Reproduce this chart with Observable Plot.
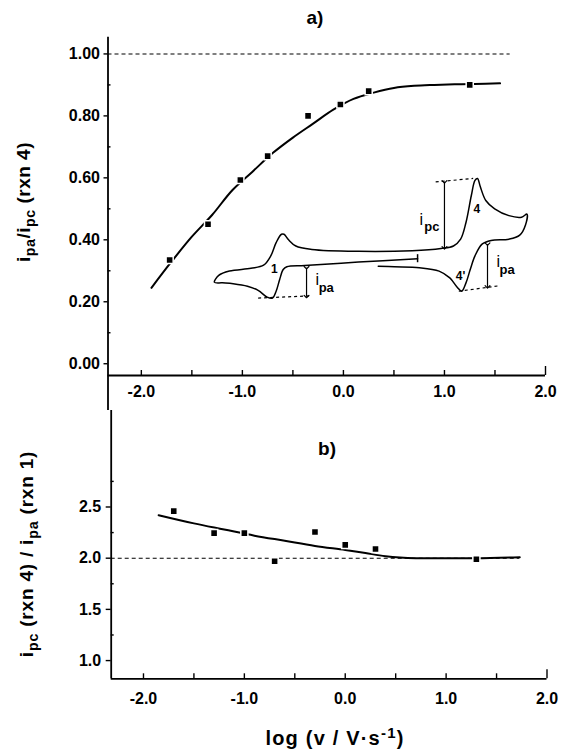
<!DOCTYPE html>
<html><head><meta charset="utf-8">
<script src="https://cdn.jsdelivr.net/npm/d3@7"></script>
<script src="https://cdn.jsdelivr.net/npm/@observablehq/plot@0.6"></script>
<style>
body{margin:0;background:#fff;}
#c{width:563px;height:755px;position:relative;overflow:hidden;}
#c svg{display:block;}
</style>
</head><body><div id="c"></div>
<script>
// ---------- Panel a data ----------
const logvA  = [-1.72, -1.34, -1.02, -0.75, -0.35, -0.03, 0.25, 1.25];
const ratioA = [0.335, 0.45, 0.593, 0.67, 0.80, 0.837, 0.88, 0.90];
const fitAx = [-1.9, -1.7, -1.5, -1.3, -1.1, -0.9, -0.7, -0.5, -0.3, -0.1, 0.1, 0.3, 0.5, 0.7, 0.9, 1.1, 1.3, 1.55];
const fitAy = [0.245, 0.33, 0.41, 0.48, 0.56, 0.62, 0.68, 0.73, 0.775, 0.82, 0.855, 0.875, 0.89, 0.897, 0.90, 0.902, 0.903, 0.905];
const refA = 1.0;

// inset cyclic voltammogram (drawn in panel-a units)
const cvX = [0.734,0.149,-0.383,-0.560,-0.596,-0.631,-0.666,-0.702,-0.755,-0.844,-0.950,-1.091,-1.198,-1.277,-1.234,-1.128,-0.915,-0.790,-0.719,-0.666,-0.613,-0.588,-0.543,-0.471,-0.312,0.149,0.681,0.965,1.089,1.160,1.213,1.266,1.302,1.327,1.355,1.409,1.497,1.638,1.763,1.816,1.802,1.745,1.638,1.462,1.372,1.302,1.255,1.213,1.170,1.124,1.053,0.947,0.752,0.504,0.345];
const cvY = [0.339,0.328,0.317,0.313,0.304,0.272,0.234,0.212,0.215,0.237,0.250,0.258,0.261,0.263,0.285,0.299,0.308,0.318,0.348,0.391,0.418,0.418,0.400,0.380,0.369,0.363,0.365,0.372,0.380,0.402,0.456,0.543,0.592,0.598,0.571,0.527,0.500,0.478,0.473,0.483,0.448,0.415,0.402,0.398,0.386,0.348,0.304,0.261,0.234,0.248,0.277,0.299,0.310,0.313,0.315];
const cvEndTick = {x: 0.734, y1: 0.326, y2: 0.352};
const baseDashes = [
  {x1: 0.913, y1: 0.587, x2: 1.284, y2: 0.598},
  {x1: 1.142, y1: 0.234, x2: 1.55,  y2: 0.252},
  {x1: -0.844, y1: 0.212, x2: -0.33, y2: 0.219}
];
const heightArrows = [
  {x: 1.0,    y1: 0.587, y2: 0.374},
  {x: 1.426,  y1: 0.386, y2: 0.248},
  {x: -0.365, y1: 0.310, y2: 0.217}
];
const peakLabels = [
  {x: -0.684, y: 0.304, t: "1"},
  {x: 1.32,   y: 0.50,  t: "4"},
  {x: 1.16,   y: 0.283, t: "4'"}
];
const curLabels = [
  {x: 0.752,  y: 0.463, sx: 0.80,  sy: 0.442, sub: "pc"},
  {x: 1.515,  y: 0.330, sx: 1.545, sy: 0.304, sub: "pa"},
  {x: -0.277, y: 0.272, sx: -0.245, sy: 0.245, sub: "pa"}
];

// ---------- Panel b data ----------
const logvB  = [-1.7, -1.3, -1.0, -0.7, -0.3, 0.0, 0.3, 1.3];
const ratioB = [2.46, 2.245, 2.245, 1.97, 2.255, 2.13, 2.09, 1.99];
const fitBx = [-1.85, -1.5, -1.2, -0.9, -0.6, -0.3, 0.0, 0.2, 0.4, 0.7, 1.0, 1.3, 1.73];
const fitBy = [2.42, 2.34, 2.28, 2.22, 2.17, 2.12, 2.08, 2.05, 2.02, 2.0, 2.0, 2.0, 2.01];
const refB = 2.0;

// ---------- ticks ----------
const xTickLabels = [-2, -1, 0, 1, 2];
const xTickMarks = [-2, -1.5, -1, -0.5, 0, 0.5, 1, 1.5];
const yTicksA = [0, 0.2, 0.4, 0.6, 0.8, 1.0];
const yMinorA = [0.1, 0.3, 0.5, 0.7, 0.9];
const yTicksB = [1.0, 1.5, 2.0, 2.5];
const yMinorB = [1.25, 1.75, 2.25, 2.75];

const FONT = "'Liberation Sans', Arial, Helvetica, sans-serif";
const baseStyle = {fontFamily: FONT, fontSize: "16px", fontWeight: "bold", background: "white", color: "black"};

// ---------- Panel a ----------
const A = {W: 563, H: 410, mt: 36.7, mb: 35, ml: 107.5, mr: 18, x0: -2.33, x1: 2.0, y0: -0.038, y1: 1.054};
const pxA = (A.H - A.mt - A.mb) / (A.y1 - A.y0);
const pxAx = (A.W - A.ml - A.mr) / (A.x1 - A.x0);
const ptsA = logvA.map((x, i) => ({x, y: ratioA[i]}));
const fitA = fitAx.map((x, i) => ({x, y: fitAy[i]}));
const cv = cvX.map((x, i) => ({x, y: cvY[i]}));

const plotA = Plot.plot({
  width: A.W, height: A.H,
  marginTop: A.mt, marginBottom: A.mb, marginLeft: A.ml, marginRight: A.mr,
  x: {domain: [A.x0, A.x1]},
  y: {domain: [A.y0, A.y1]},
  style: baseStyle,
  marks: [
    Plot.ruleX([A.x0], {y1: A.y0 - A.mb / pxA, y2: A.y1, strokeWidth: 1.8}),
    Plot.ruleY([A.y0], {x1: A.x0, x2: A.x1, strokeWidth: 1.8}),
    Plot.ruleX(xTickMarks, {y1: A.y0, y2: A.y0 + 5 / pxA, strokeWidth: 1.4}),
    Plot.ruleX([A.x1], {y1: A.y0, y2: A.y0 + 9 / pxA, strokeWidth: 1.4}),
    Plot.ruleY(yMinorA, {x1: A.x0, x2: A.x0 + 3 / pxAx, strokeWidth: 1.4}),
    Plot.axisX(xTickLabels, {tickSize: 0, tickPadding: 10, tickFormat: d => d.toFixed(1), label: null, fontSize: 16, letterSpacing: "1.5px"}),
    Plot.axisY(yTicksA, {tickSize: 4, tickPadding: 4, tickFormat: d => d.toFixed(2), label: null, fontSize: 16, strokeWidth: 1.4}),
    Plot.ruleY([refA], {x1: A.x0, x2: 1.65, strokeDasharray: "4,3", strokeWidth: 1.1}),
    // inset CV
    Plot.line(cv, {x: "x", y: "y", strokeWidth: 1.5, curve: "catmull-rom"}),
    Plot.ruleX([cvEndTick], {x: "x", y1: "y1", y2: "y2", strokeWidth: 1.5}),
    Plot.link(baseDashes, {x1: "x1", y1: "y1", x2: "x2", y2: "y2", strokeDasharray: "3,3", strokeWidth: 1.2}),
    Plot.link(heightArrows, {x1: "x", y1: "y1", x2: "x", y2: "y2", markerStart: "arrow", markerEnd: "arrow", strokeWidth: 1.2}),
    Plot.text(peakLabels, {x: "x", y: "y", text: "t", fontSize: 12}),
    Plot.text(curLabels, {x: "x", y: "y", text: () => "i", textAnchor: "start", fontSize: 16, fontWeight: "normal"}),
    Plot.text(curLabels, {x: "sx", y: "sy", text: "sub", textAnchor: "start", fontSize: 13}),
    // fit + data
    Plot.line(fitA, {x: "x", y: "y", strokeWidth: 2, curve: "catmull-rom"}),
    Plot.dot(ptsA, {x: "x", y: "y", symbol: "square", r: 4, fill: "black", stroke: "white", strokeWidth: 1.5})
  ]
});

// ---------- Panel b ----------
const B = {W: 563, H: 345, mt: 45.3, mb: 76.7, ml: 110.7, mr: 16.5, x0: -2.32, x1: 2.0, y0: 0.822, y1: 3.0};
const pxB = (B.H - B.mt - B.mb) / (B.y1 - B.y0);
const pxBx = (B.W - B.ml - B.mr) / (B.x1 - B.x0);
const ptsB = logvB.map((x, i) => ({x, y: ratioB[i]}));
const fitB = fitBx.map((x, i) => ({x, y: fitBy[i]}));

const plotB = Plot.plot({
  width: B.W, height: B.H,
  marginTop: B.mt, marginBottom: B.mb, marginLeft: B.ml, marginRight: B.mr,
  x: {domain: [B.x0, B.x1]},
  y: {domain: [B.y0, B.y1]},
  style: baseStyle,
  marks: [
    Plot.ruleX([B.x0], {y1: B.y0, y2: B.y1 + B.mt / pxB, strokeWidth: 1.8}),
    Plot.ruleY([B.y0], {x1: B.x0, x2: B.x1, strokeWidth: 1.8}),
    Plot.ruleX(xTickMarks, {y1: B.y0, y2: B.y0 + 5 / pxB, strokeWidth: 1.4}),
    Plot.ruleX([B.x1], {y1: B.y0, y2: B.y0 + 9 / pxB, strokeWidth: 1.4}),
    Plot.ruleY(yMinorB, {x1: B.x0, x2: B.x0 + 3 / pxBx, strokeWidth: 1.4}),
    Plot.axisX(xTickLabels, {tickSize: 0, tickPadding: 14, tickFormat: d => d.toFixed(1), label: null, fontSize: 16, letterSpacing: "1.5px"}),
    Plot.axisY(yTicksB, {tickSize: 5, tickPadding: 5, tickFormat: d => d.toFixed(1), label: null, fontSize: 16, strokeWidth: 1.4}),
    Plot.ruleY([refB], {x1: B.x0, x2: 1.73, strokeDasharray: "4,3", strokeWidth: 1.1}),
    Plot.line(fitB, {x: "x", y: "y", strokeWidth: 2, curve: "catmull-rom"}),
    Plot.dot(ptsB, {x: "x", y: "y", symbol: "square", r: 4, fill: "black", stroke: "white", strokeWidth: 1.5})
  ]
});

const c = document.getElementById("c");
c.appendChild(plotA);
c.appendChild(plotB);

// ---------- rich-text labels ----------
function richText(svg, x, y, rotate, parts, size, spacing) {
  const t = d3.select(svg).append("text")
    .attr("transform", `translate(${x},${y})` + (rotate ? ` rotate(${rotate})` : ""))
    .attr("text-anchor", "middle")
    .attr("font-family", FONT).attr("font-weight", "bold").attr("font-size", size)
    .attr("letter-spacing", spacing || 0)
    .attr("fill", "black");
  let shift = 0;
  for (const p of parts) {
    const want = p.sub ? 5 : p.sup ? -7 : 0;
    t.append("tspan").attr("dy", want - shift)
      .attr("font-size", (p.sub || p.sup) ? size * 0.75 : size)
      .text(p.t);
    shift = want;
  }
  return t;
}
richText(plotA, 315, 24, 0, [{t: "a)"}], 19);
richText(plotA, 30, 202, -90,
  [{t: "i"}, {t: "pa", sub: true}, {t: "/i"}, {t: "pc", sub: true}, {t: " (rxn 4)"}], 19, 0.5);
richText(plotB, 327, 45, 0, [{t: "b)"}], 19);
richText(plotB, 33, 144, -90,
  [{t: "i"}, {t: "pc", sub: true}, {t: " (rxn 4) / i"}, {t: "pa", sub: true}, {t: " (rxn 1)"}], 19, 0.8);
richText(plotB, 335, 335, 0,
  [{t: "log (v / V\u00b7s"}, {t: "-1", sup: true}, {t: ")"}], 20, 1.2);
</script></body></html>
